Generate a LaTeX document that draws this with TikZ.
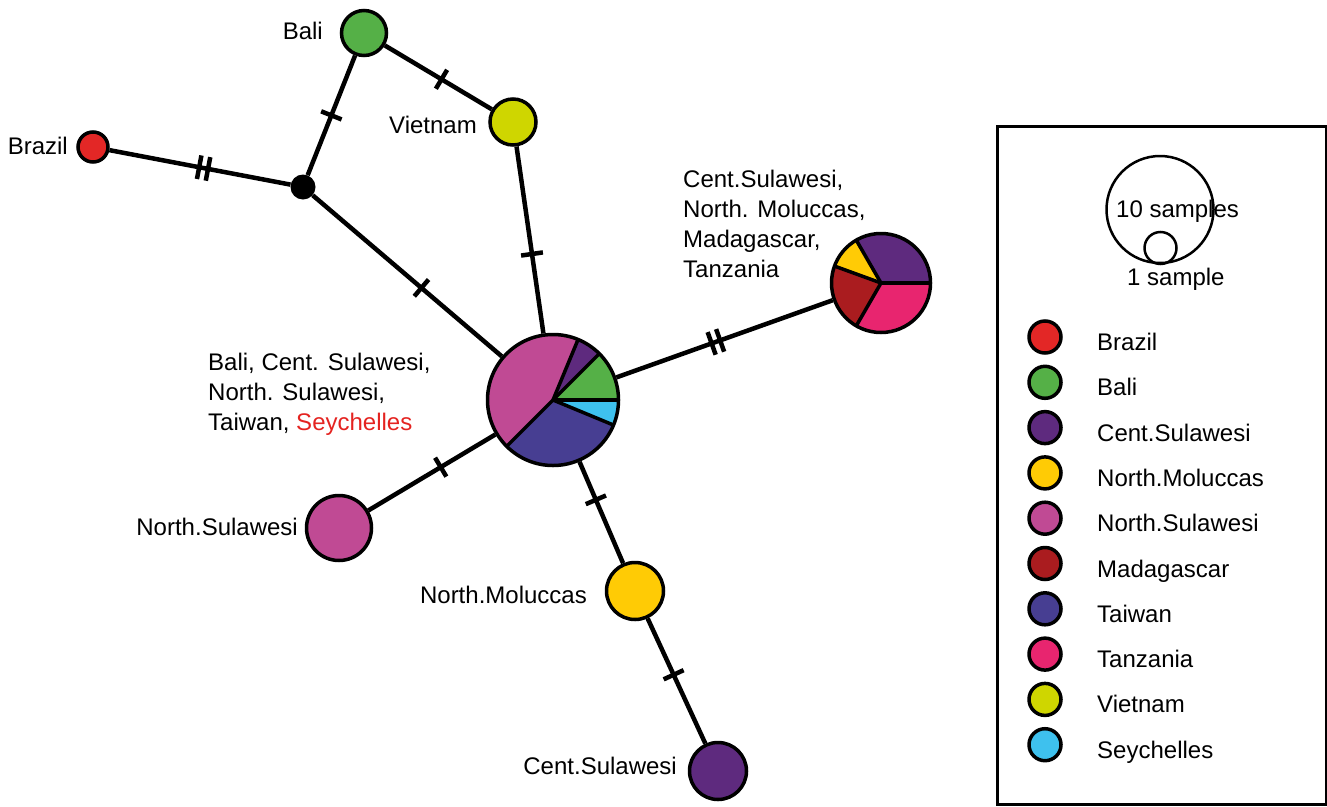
\documentclass[tikz,border=0pt]{standalone}
\usepackage{fontspec}
\setmainfont{Liberation Sans}
\usetikzlibrary{decorations.markings}
\definecolor{cBrazil}{HTML}{E32726}
\definecolor{cBali}{HTML}{55B047}
\definecolor{cCent}{HTML}{5E2A7E}
\definecolor{cNMol}{HTML}{FFCB05}
\definecolor{cNSul}{HTML}{C04A94}
\definecolor{cMada}{HTML}{AA1C1F}
\definecolor{cTaiwan}{HTML}{473E92}
\definecolor{cTanz}{HTML}{E8256F}
\definecolor{cViet}{HTML}{CFD600}
\definecolor{cSey}{HTML}{3EC1EE}
\definecolor{cSeyText}{HTML}{E42320}
\pgfdeclarelayer{bg}
\pgfsetlayers{bg,main}
\newcommand\pieslice[5]{\fill[#5] (#1) -- ++(#3:#2) arc[start angle=#3, end angle=#4, radius=#2] -- cycle;}
\tikzset{
  hap/.style={circle, draw=black, line width=3.5pt, inner sep=0pt, minimum size=#1},
  pieframe/.style={circle, draw=black, line width=3.5pt, inner sep=0pt, minimum size=#1},
  sep/.style={line width=3.5pt},
  lab/.style={font=\fontsize{24pt}{30pt}\selectfont, inner sep=0pt},
  link/.style={line width=4.5pt},
  onetick/.style={link, postaction={decorate}, decoration={markings,
      mark=at position #1 with {\draw[line width=4.5pt] (0pt,-11pt) -- (0pt,11pt);}}},
  twotick/.style={link, postaction={decorate}, decoration={markings,
      mark=at position #1 with {\draw[line width=4.5pt] (-4.5pt,-12pt) -- (-4.5pt,12pt) (4.5pt,-12pt) -- (4.5pt,12pt);}}},
  legdot/.style={circle, draw=black, line width=3.5pt, inner sep=0pt, minimum size=32pt},
}
\begin{document}
\begin{tikzpicture}[x=1pt, y=-1pt]
\useasboundingbox (0,0) rectangle (1327,806);

% haplotype circles
\node[hap=30pt, fill=cBrazil] (brazil) at (93,147) {};
\node[hap=45pt, fill=cBali] (bali) at (364,33) {};
\node[hap=46pt, fill=cViet] (viet) at (513,122) {};
\node[circle, fill=black, inner sep=0pt, minimum size=25pt] (mv) at (303,187) {};
\node[hap=65pt, fill=cNSul] (nsul) at (339,528) {};
\node[hap=57pt, fill=cNMol] (nmol) at (635,591) {};
\node[hap=57pt, fill=cCent] (csul) at (718,771) {};

% central pie
\coordinate (hubc) at (553,400);
\pieslice{hubc}{65.5pt}{0}{45}{cBali}
\pieslice{hubc}{65.5pt}{45}{67.5}{cCent}
\pieslice{hubc}{65.5pt}{67.5}{225}{cNSul}
\pieslice{hubc}{65.5pt}{225}{337.5}{cTaiwan}
\pieslice{hubc}{65.5pt}{337.5}{360}{cSey}
\foreach \a in {0,45,67.5,225,337.5} \draw[sep] (hubc) -- ++(\a:65.5pt);
\node[pieframe=131pt] (hub) at (hubc) {};

% right pie
\coordinate (rpc) at (881,283);
\pieslice{rpc}{49.5pt}{0}{120}{cCent}
\pieslice{rpc}{49.5pt}{120}{160}{cNMol}
\pieslice{rpc}{49.5pt}{160}{240}{cMada}
\pieslice{rpc}{49.5pt}{240}{360}{cTanz}
\foreach \a in {0,120,160,240} \draw[sep] (rpc) -- ++(\a:49.5pt);
\node[pieframe=99pt] (rpie) at (rpc) {};

% connectors
\begin{pgfonlayer}{bg}
\draw[twotick=0.52] (brazil) -- (mv);
\draw[onetick=0.5] (mv) -- (bali);
\draw[onetick=0.53] (bali) -- (viet);
\draw[onetick=0.575] (viet) -- (hub);
\draw[onetick=0.575] (mv) -- (hub);
\draw[twotick=0.46] (hub) -- (rpie);
\draw[onetick=0.43] (hub) -- (nsul);
\draw[onetick=0.375] (hub) -- (nmol);
\draw[onetick=0.45] (nmol) -- (csul);
\end{pgfonlayer}

% labels
\node[lab, anchor=base east] (lbrazil) at (68,154) {Brazil};
\node[lab, anchor=base east] (lbali) at (323,39) {Bali};
\node[lab, anchor=base east] (lviet) at (477,133) {Vietnam};
\node[lab, anchor=base east] (lnsul) at (298,535) {North.Sulawesi};
\node[lab, anchor=base east] (lnmol) at (587,603) {North.Moluccas};
\node[lab, anchor=base east] (lcsul) at (677,774) {Cent.Sulawesi};
\node[lab, anchor=north west, align=left] (lhub) at (208,352.8)
  {Bali, Cent. Sulawesi,\\North. Sulawesi,\\Taiwan, \textcolor{cSeyText}{Seychelles}};
\node[lab, anchor=north west, align=left] (lrpie) at (683,169.5)
  {Cent.Sulawesi,\\North. Moluccas,\\Madagascar,\\Tanzania};

% legend
\node[draw=black, line width=3pt, inner sep=0pt, minimum width=329pt, minimum height=678pt, anchor=north west] (legbox) at (995.5,124.5) {};
\node[circle, draw=black, line width=2.5pt, inner sep=0pt, minimum size=107pt] (big) at (1160,209.5) {};
\node[circle, draw=black, line width=2.5pt, inner sep=0pt, minimum size=32pt] (small) at (1160.5,248) {};
\node[lab, anchor=base west] (l10) at (1116,217) {10 samples};
\node[lab, anchor=base west] (l1) at (1127,285) {1 sample};
\foreach \col/\nm [count=\i from 0] in {cBrazil/Brazil, cBali/Bali, cCent/Cent.Sulawesi, cNMol/North.Moluccas, cNSul/North.Sulawesi, cMada/Madagascar, cTaiwan/Taiwan, cTanz/Tanzania, cViet/Vietnam, cSey/Seychelles} {
  \node[legdot, fill=\col] (legdot\i) at (1045,{337+45.3*\i}) {};
  \node[lab, anchor=base west] (legtxt\i) at (1097,{350.5+45.3*\i}) {\nm};
}
\end{tikzpicture}
\end{document}
